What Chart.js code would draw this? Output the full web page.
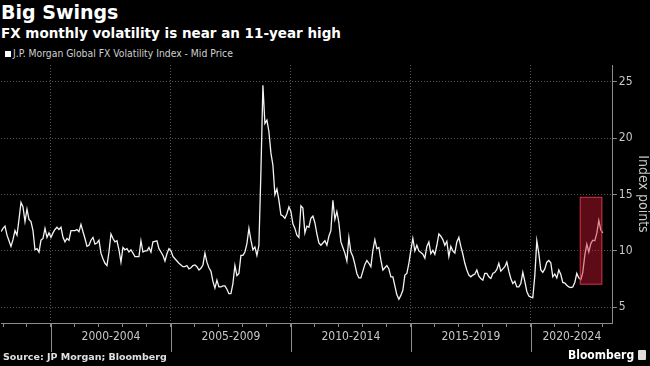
<!DOCTYPE html>
<html>
<head>
<meta charset="utf-8">
<title>Big Swings</title>
<script src="https://cdn.jsdelivr.net/npm/chart.js@4.4.1/dist/chart.umd.min.js"></script>
<style>
  body { margin: 0; background: #000; width: 650px; height: 366px; overflow: hidden; position: relative; color: #fff; font-family: "DejaVu Sans", sans-serif; }
  #title { position: absolute; left: 1px; top: 3px; font: bold 19px/19px "DejaVu Sans", sans-serif; }
  #subtitle { position: absolute; left: 1px; top: 25.5px; font: bold 13.5px/14px "DejaVu Sans", sans-serif; }
  #legend { position: absolute; left: 5px; top: 48px; font: 10.3px/11px "DejaVu Sans Condensed", "DejaVu Sans", sans-serif; color: #d0d0d0; }
  #legend .box { display: inline-block; width: 6px; height: 6px; background: #fff; margin-right: 2px; vertical-align: 0px; }
  #source { position: absolute; left: 3px; top: 352px; font: bold 9.5px/10px "DejaVu Sans", sans-serif; color: #e0e0e0; }
  #logo { position: absolute; left: 568px; top: 349px; font: bold 12px/13px "DejaVu Sans Condensed", "DejaVu Sans", sans-serif; color: #fff; }
  #logo .mark { display: inline-block; width: 8px; height: 10px; background: #ddd; border-radius: 1px; margin-left: 4px; vertical-align: -1px; }
  #chart { position: absolute; left: 0; top: 0; }
</style>
</head>
<body>
<div id="title">Big Swings</div>
<div id="subtitle">FX monthly volatility is near an 11-year high</div>
<div id="legend"><span class="box"></span><span id="legendText"></span></div>
<canvas id="chart" width="650" height="366"></canvas>
<div id="source">Source: JP Morgan; Bloomberg</div>
<div id="logo">Bloomberg<span class="mark"></span></div>
<script>
// --- data (monthly, first point Dec 1997)
var seriesName = 'J.P. Morgan Global FX Volatility Index - Mid Price';
var firstMonth = 1997 + 11 / 12;

var vol1998 = [11.7, 12.0, 12.2, 11.4, 10.9, 10.4, 11.0, 11.8, 11.4, 12.8,
    14.3, 13.9, 12.6, 13.7, 12.8, 12.6, 11.8, 10.1, 10.2, 9.9,
    10.95, 11.1, 12.0, 11.2, 11.6];
var vol2000 = [11.2, 11.6, 11.9, 12.1, 11.9, 12.1, 11.2, 10.8, 11.1, 10.95,
    11.8, 11.8, 11.8, 11.9, 11.7, 12.35, 11.7, 11.1, 10.4, 10.5,
    10.95, 11.2, 10.6, 10.7, 10.95, 9.8, 9.3, 8.9, 8.7, 9.9,
    11.5, 11.1, 10.8, 10.9, 10.1, 9.0, 10.3, 10.1, 10.2, 9.9,
    10.1, 9.8, 9.5, 9.5, 9.5, 10.9, 9.9, 10.0, 10.0, 10.3,
    9.9, 10.8, 10.85, 10.9, 10.2, 9.9, 9.6, 9.1, 9.75, 10.2];
var vol2005 = [10.0, 9.5, 9.3, 9.1, 8.9, 8.75, 8.6, 8.6, 8.7, 8.4,
    8.5, 8.7, 8.75, 8.6, 8.3, 8.45, 8.75, 9.8, 9.0, 8.5,
    8.2, 7.3, 6.7, 7.4, 6.8, 6.8, 6.9, 6.9, 6.6, 6.2,
    6.2, 7.1, 8.7, 7.8, 8.0, 9.6, 9.6, 9.9, 10.65, 12.0,
    10.95, 10.1, 10.35, 9.6, 10.5, 17.0, 24.7, 21.3, 21.6, 20.6,
    18.7, 17.6, 15.0, 15.5, 14.5, 13.2, 13.1, 12.9, 13.3, 13.9];
var vol2010 = [13.5, 12.4, 12.0, 11.4, 11.2, 14.0, 13.8, 11.6, 12.2, 12.1,
    12.9, 13.1, 12.5, 11.5, 10.7, 10.5, 10.7, 10.9, 10.5, 11.3,
    11.8, 14.5, 12.8, 13.5, 12.5, 10.8, 10.3, 9.8, 9.1, 11.2,
    9.9, 9.5, 8.8, 8.0, 7.6, 7.6, 8.2, 8.8, 9.15, 8.9,
    8.6, 10.05, 11.0, 10.2, 10.3, 9.2, 8.3, 8.5, 8.7, 8.4,
    7.7, 7.7, 6.9, 6.1, 5.7, 6.05, 6.5, 7.85, 8.0, 8.9];
var vol2015 = [10.05, 11.1, 10.0, 10.5, 10.0, 9.85, 9.7, 9.35, 10.4, 10.8,
    9.75, 10.05, 9.7, 10.5, 11.5, 11.3, 11.0, 10.5, 10.85, 9.5,
    10.4, 10.0, 9.8, 10.8, 11.2, 10.4, 9.7, 8.9, 8.3, 7.85,
    7.7, 7.85, 7.95, 8.3, 7.75, 7.55, 7.4, 8.0, 8.0, 7.7,
    7.55, 8.0, 8.1, 8.35, 8.9, 8.2, 8.4, 8.6, 9.0, 8.2,
    7.55, 7.1, 7.3, 6.8, 6.8, 7.1, 8.1, 7.3, 6.4, 6.0];
var vol2020 = [5.9, 5.85, 7.8, 10.9, 9.75, 8.3, 8.1, 8.4, 9.0, 9.15,
    8.95, 7.7, 7.95, 7.6, 8.3, 7.9, 7.2, 7.15, 6.95, 6.8,
    6.75, 6.8, 7.2, 8.0, 7.6, 7.45, 8.1, 9.6, 10.6, 9.9,
    10.65, 10.95, 10.9, 11.55, 12.7, 11.85, 11.6];

var periodStarts = [2000, 2005, 2010, 2015, 2020];
var periodLabels = ['2000-2004', '2005-2009', '2010-2014', '2015-2019', '2020-2024'];
var yTicks = [5, 10, 15, 20, 25];
var xMin = 1997.92, xMax = 2023.42;
var yMin = 3.6, yMax = 26.5;
// shaded box over the latest run-up
var boxFrom = 2022.04, boxTo = 2022.98, boxLow = 7.0, boxHigh = 14.8;

//--- build points
var vol = vol1998.concat(vol2000, vol2005, vol2010, vol2015, vol2020);
var points = [];
vol.forEach(function (v, i) {
    points.push({ x: firstMonth + i / 12, y: v });
});

function periodCenter(start) {
    return (start + Math.min(start + 5, xMax)) / 2;
}
var xTickValues = [];
for (var yr = Math.ceil(xMin); yr <= xMax; yr++) xTickValues.push(yr);
periodStarts.forEach(function (s) { xTickValues.push(periodCenter(s)); });
xTickValues.sort(function (a, b) { return a - b; });

function isBoundary(v) {
    return Number.isInteger(v) && v % 5 === 0;
}

document.getElementById('legendText').textContent = seriesName;

var gridColor = '#5a5a5a';
var axisColor = '#8c8c8c';
var labelColor = '#c8c8c8';
var tickFont = { family: "'DejaVu Sans Condensed', 'DejaVu Sans', sans-serif", size: 12 };

var highlightBox = {
    id: 'highlightBox',
    afterDatasetsDraw: function (chart) {
        var x = chart.scales.x, y = chart.scales.y, c = chart.ctx;
        var l = x.getPixelForValue(boxFrom), r = x.getPixelForValue(boxTo);
        var t = y.getPixelForValue(boxHigh), b = y.getPixelForValue(boxLow);
        c.save();
        c.fillStyle = 'rgba(200, 24, 50, 0.46)';
        c.fillRect(l, t, r - l, b - t);
        c.strokeStyle = 'rgba(215, 60, 80, 0.85)';
        c.lineWidth = 1;
        c.strokeRect(l + 0.5, t + 0.5, r - l - 1, b - t - 1);
        c.restore();
    }
};

var separators = {
    id: 'separators',
    afterDraw: function (chart) {
        var x = chart.scales.x, c = chart.ctx, bottom = chart.chartArea.bottom;
        c.save();
        c.strokeStyle = axisColor;
        c.lineWidth = 1;
        periodStarts.forEach(function (s) {
            var px = Math.round(x.getPixelForValue(s)) + 0.5;
            c.beginPath();
            c.moveTo(px, bottom);
            c.lineTo(px, bottom + 29);
            c.stroke();
        });
        c.restore();
    }
};

var ctx = document.getElementById('chart');
var chart = new Chart(ctx, {
    type: 'line',
    data: {
        datasets: [{
            label: seriesName,
            data: points,
            borderColor: '#f4f4f4',
            borderWidth: 1.3,
            pointRadius: 0,
            tension: 0
        }]
    },
    options: {
        responsive: false,
        animation: false,
        layout: { padding: { top: 65, bottom: 18.6, left: 0, right: 0 } },
        plugins: { legend: { display: false }, tooltip: { enabled: false } },
        scales: {
            x: {
                type: 'linear',
                min: xMin,
                max: xMax,
                afterBuildTicks: function (scale) {
                    scale.ticks = xTickValues.map(function (v) { return { value: v }; });
                },
                grid: {
                    color: function (c) { return c.tick && isBoundary(c.tick.value) ? gridColor : 'rgba(0,0,0,0)'; },
                    tickColor: function (c) { return c.tick && Number.isInteger(c.tick.value) ? axisColor : 'rgba(0,0,0,0)'; },
                    tickLength: 4
                },
                border: { color: axisColor, dash: [1, 2] },
                ticks: {
                    autoSkip: false,
                    maxRotation: 0,
                    minRotation: 0,
                    padding: 3,
                    color: labelColor,
                    font: tickFont,
                    callback: function (v) {
                        var k = periodStarts.findIndex(function (s) { return Math.abs(periodCenter(s) - v) < 1e-6; });
                        return k >= 0 ? periodLabels[k] : '';
                    }
                }
            },
            y: {
                position: 'right',
                min: yMin,
                max: yMax,
                afterBuildTicks: function (scale) {
                    scale.ticks = yTicks.map(function (v) { return { value: v }; });
                },
                grid: { color: gridColor, tickColor: axisColor, tickLength: 4 },
                border: { color: axisColor, dash: [1, 2] },
                ticks: { padding: 2, color: labelColor, font: tickFont },
                title: {
                    display: true,
                    text: 'Index points',
                    color: labelColor,
                    font: { family: "'DejaVu Sans Condensed', 'DejaVu Sans', sans-serif", size: 14, lineHeight: 1.1 },
                    padding: { top: 0, bottom: 0 }
                }
            }
        }
    },
    plugins: [highlightBox, separators]
});
</script>
</body>
</html>
